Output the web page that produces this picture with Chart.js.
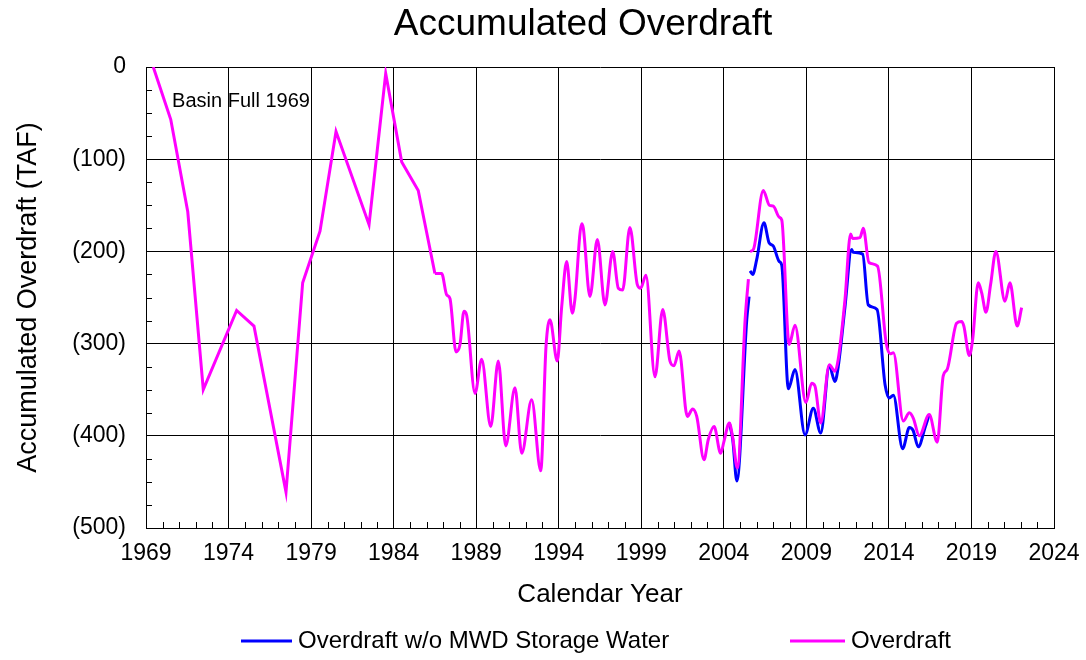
<!DOCTYPE html>
<html>
<head>
<meta charset="utf-8">
<title>Accumulated Overdraft</title>
<script src="https://cdn.jsdelivr.net/npm/chart.js@4.4.0/dist/chart.umd.min.js"></script>
<style>
    html, body { margin: 0; padding: 0; background: #fff; }
    #wrap { width: 1086px; height: 660px; }
</style>
</head>
<body>
<div id="wrap"><canvas id="overdraftChart" width="1086" height="660"></canvas></div>
<script>
// ---- datos ----
const xTickYears = [1969, 1974, 1979, 1984, 1989, 1994, 1999, 2004, 2009, 2014, 2019, 2024];
const yTickValues = [0, -100, -200, -300, -400, -500];

// Overdraft (magenta) - null = hueco en la linea
const overdraftYears = [
    1969.44, 1970.50, 1971.53, 1972.47, 1974.49, 1975.54, 1977.48, 1978.49, 1979.54, 1980.51,
    1982.51, 1983.52, 1984.49, 1985.49, 1986.50, 1986.91, 1987.21, 1987.41, 1987.78, 1988.02,
    1988.26, 1988.42, 1988.93, 1989.33, 1989.88, 1990.34, 1990.79, 1991.35, 1991.76, 1992.36,
    1992.91, 1993.23, 1993.47, 1993.91, 1994.18, 1994.48, 1994.82, 1994.98, 1995.39, 1995.49,
    1995.89, 1996.34, 1996.80, 1997.27, 1997.61, 1997.87, 1998.31, 1998.76, 1998.96, 1999.28,
    1999.83, 2000.30, 2000.74, 2000.98, 2001.29, 2001.79, 2002.11, 2002.36, 2002.80, 2003.06,
    2003.41, 2003.81, 2004.01, 2004.33, 2004.54, 2004.82, 2005.29, 2005.49, 2005.54, 2005.59,
    2005.79, 2006.39, 2006.76, 2007.00, 2007.36, 2007.51, 2007.96, 2008.31, 2008.97, 2009.32,
    2009.52, 2009.87, 2010.39, 2010.73, 2010.93, 2011.34, 2011.68, 2011.80, 2012.25, 2012.45,
    2012.79, 2013.31, 2013.84, 2014.07, 2014.27, 2014.87, 2015.24, 2015.48, 2015.84, 2016.44,
    2016.93, 2017.29, 2017.53, 2018.10, 2018.40, 2018.54, 2018.87, 2019.07, 2019.41, 2019.62,
    2019.88, 2020.16, 2020.48, 2021.03, 2021.33, 2021.77, 2022.04
];
const overdraftValues = [
    0, -57, -157, -350, -264, -281, -461, -234, -178, -70,
    -171, -7, -103, -134, -224, -224, -247, -251, -309, -301,
    -265, -269, -354, -317, -390, -319, -411, -348, -419, -361,
    -438, -303, -274, -319, -260, -211, -267, -252, -170, -175,
    -249, -187, -258, -200, -240, -242, -174, -236, -240, -226,
    -336, -263, -319, -324, -308, -379, -371, -379, -426, -404,
    -390, -419, -406, -386, -402, -435, -274, -230, null, -200,
    -198, -134, -150, -151, -163, -166, -301, -280, -364, -343,
    -346, -386, -323, -330, -317, -252, -181, -186, -185, -175,
    -212, -216, -300, -311, -310, -384, -375, -381, -400, -377,
    -407, -335, -328, -278, -276, -281, -313, -296, -234, -245,
    -266, -236, -200, -254, -234, -281, -261
];

// Overdraft w/o MWD Storage Water (azul)
const noMwdYears = [
    2004.33, 2004.54, 2004.79, 2005.39, 2005.53, 2005.56, 2005.59, 2005.75, 2005.99, 2006.43,
    2006.75, 2006.99, 2007.36, 2007.51, 2007.91, 2008.31, 2008.92, 2009.42, 2009.87, 2010.39,
    2010.73, 2010.93, 2011.34, 2011.74, 2011.84, 2012.41, 2012.75, 2013.28, 2013.77, 2014.02,
    2014.27, 2014.83, 2015.24, 2015.46, 2015.78, 2016.19, 2016.44
];
const noMwdValues = [
    -386, -404, -449, -274, -249, null, -221, -225, -209, -169,
    -191, -194, -211, -215, -349, -328, -399, -370, -397, -324,
    -341, -325, -260, -198, -201, -203, -258, -263, -345, -359,
    -356, -414, -391, -394, -412, -391, -377
];

const FONT = "'Liberation Sans', Arial, sans-serif";
const MAGENTA = '#ff00ff';
const BLUE = '#0000ff';

// El tramo inicial son datos anuales (lineas rectas), despues mensual (suavizado)
const toPoints = (xs, ys) => xs.map((x, i) => ({ x: x, y: ys[i] }));
const overdraftPts = toPoints(overdraftYears, overdraftValues);
const splitIdx = overdraftYears.indexOf(1986.50);
const overdraftEarly = overdraftPts.slice(0, splitIdx + 1);
const overdraftLate = overdraftPts.slice(splitIdx);

// Plugin: titulo, ticks menores, nota y leyenda
const extrasPlugin = {
    id: 'extras',
    afterDraw(chart) {
        const ctx = chart.ctx;
        const xs = chart.scales.x;
        const ys = chart.scales.y;
        const area = chart.chartArea;
        ctx.save();

        // ticks menores hacia adentro
        ctx.strokeStyle = '#000';
        ctx.lineWidth = 1;
        ctx.beginPath();
        for (let yr = 1970; yr < 2024; yr++) {
            if ((yr - 1969) % 5 === 0) continue;
            const px = Math.round(xs.getPixelForValue(yr)) + 0.5;
            ctx.moveTo(px, area.bottom);
            ctx.lineTo(px, area.bottom - 6);
        }
        for (let v = -25; v > -500; v -= 25) {
            if (v % 100 === 0) continue;
            const py = Math.round(ys.getPixelForValue(v)) + 0.5;
            ctx.moveTo(area.left, py);
            ctx.lineTo(area.left + 6, py);
        }
        ctx.stroke();

        // titulo
        ctx.fillStyle = '#000';
        ctx.textAlign = 'center';
        ctx.textBaseline = 'middle';
        ctx.font = '37px ' + FONT;
        ctx.fillText('Accumulated Overdraft', 583, 25);

        // nota
        ctx.textAlign = 'left';
        ctx.font = '20px ' + FONT;
        ctx.fillText('Basin Full 1969', xs.getPixelForValue(1970.58), ys.getPixelForValue(-37));

        // leyenda
        const items = [
            { text: 'Overdraft w/o MWD Storage Water', color: BLUE, x0: 241, x1: 292 },
            { text: 'Overdraft', color: MAGENTA, x0: 790, x1: 845 }
        ];
        const ly = 641;
        ctx.font = '24px ' + FONT;
        items.forEach(it => {
            ctx.strokeStyle = it.color;
            ctx.lineWidth = 3;
            ctx.beginPath();
            ctx.moveTo(it.x0, ly);
            ctx.lineTo(it.x1, ly);
            ctx.stroke();
            ctx.fillStyle = '#000';
            ctx.fillText(it.text, it.x1 + 6, ly);
        });
        ctx.restore();
    }
};

const lineBase = {
    pointRadius: 0,
    borderWidth: 3,
    fill: false,
    spanGaps: false
};

new Chart(document.getElementById('overdraftChart'), {
    type: 'line',
    data: {
        datasets: [
            Object.assign({}, lineBase, {
                label: 'Overdraft w/o MWD Storage Water',
                data: toPoints(noMwdYears, noMwdValues),
                borderColor: BLUE,
                cubicInterpolationMode: 'monotone',
                order: 2
            }),
            Object.assign({}, lineBase, {
                label: 'Overdraft',
                data: overdraftEarly,
                borderColor: MAGENTA,
                tension: 0,
                order: 1
            }),
            Object.assign({}, lineBase, {
                label: 'Overdraft',
                data: overdraftLate,
                borderColor: MAGENTA,
                cubicInterpolationMode: 'monotone',
                order: 1
            })
        ]
    },
    options: {
        responsive: false,
        animation: false,
        devicePixelRatio: 1,
        layout: { padding: { top: 67, right: 32, bottom: 50, left: 0 } },
        plugins: {
            legend: { display: false },
            title: { display: false },
            tooltip: { enabled: false }
        },
        scales: {
            x: {
                type: 'linear',
                min: 1969,
                max: 2024,
                afterBuildTicks: (scale) => { scale.ticks = xTickYears.map(v => ({ value: v })); },
                afterFit: (scale) => {
                    scale.height = 82;
                    // sin padding extra por la ultima etiqueta
                    scale.paddingLeft = 0;
                    scale.paddingRight = 0;
                },
                grid: { color: '#000', lineWidth: 1, drawTicks: false },
                border: { display: true, color: '#000', width: 1 },
                ticks: {
                    color: '#000',
                    font: { family: FONT, size: 23 },
                    padding: 12,
                    maxRotation: 0,
                    callback: (v) => String(v)
                },
                title: {
                    display: true,
                    text: 'Calendar Year',
                    color: '#000',
                    font: { family: FONT, size: 26 },
                    padding: { top: 0, bottom: 0 }
                }
            },
            y: {
                type: 'linear',
                min: -500,
                max: 0,
                afterBuildTicks: (scale) => { scale.ticks = yTickValues.map(v => ({ value: v })); },
                afterFit: (scale) => { scale.width = 146; },
                grid: { color: '#000', lineWidth: 1, drawTicks: false },
                border: { display: true, color: '#000', width: 1 },
                ticks: {
                    color: '#000',
                    font: { family: FONT, size: 23 },
                    padding: 20,
                    callback: (v) => v === 0 ? '0' : '(' + (-v) + ')'
                },
                title: {
                    display: true,
                    text: 'Accumulated Overdraft (TAF)',
                    color: '#000',
                    font: { family: FONT, size: 27 },
                    padding: { top: 12, bottom: 0 }
                }
            }
        }
    },
    plugins: [extrasPlugin]
});
</script>
</body>
</html>
